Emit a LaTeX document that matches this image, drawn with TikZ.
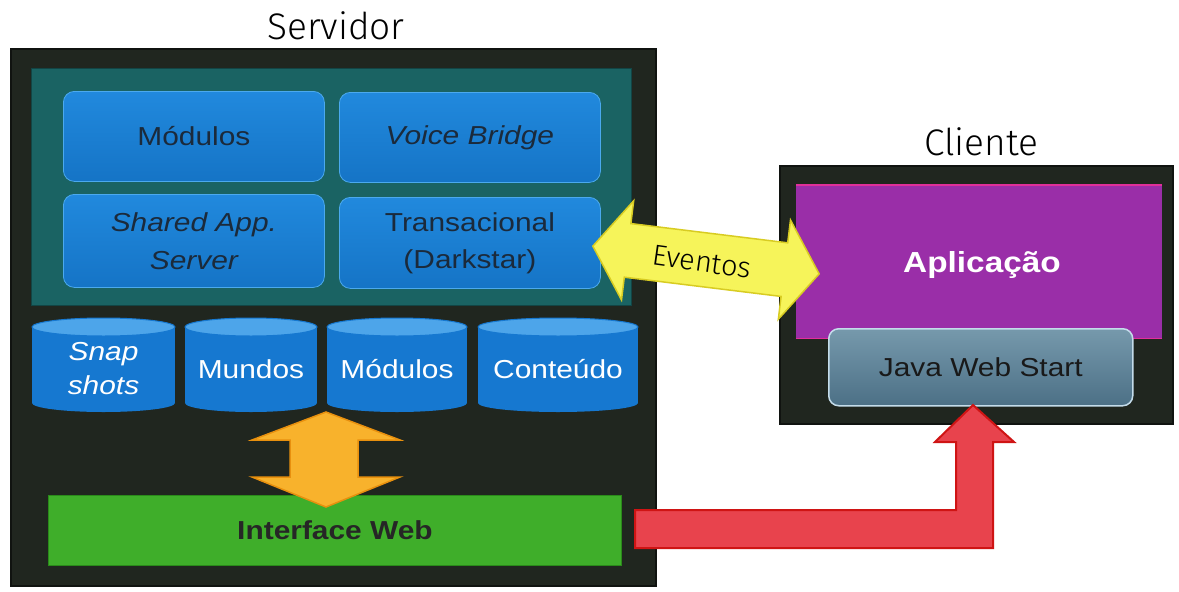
\documentclass[tikz,border=0pt]{standalone}
\usepackage{fontspec}
\setmainfont[FakeStretch=1.15]{Liberation Sans}
\newfontfamily\handfont{Fira Sans Light}
\usetikzlibrary{calc}

\definecolor{panel}{HTML}{20261F}
\definecolor{panelrim}{HTML}{101310}
\definecolor{teal}{HTML}{1A6363}
\definecolor{boxblue}{HTML}{2189DD}
\definecolor{boxblueD}{HTML}{1574C6}
\definecolor{boxrim}{HTML}{4BA9EE}
\definecolor{boxtext}{HTML}{1B2A3B}
\definecolor{cylblue}{HTML}{1678D0}
\definecolor{cyltop}{HTML}{4DA5EA}
\definecolor{webgreen}{HTML}{3FAE2A}
\definecolor{webgreenD}{HTML}{2A8A1A}
\definecolor{orangeA}{HTML}{F8B22C}
\definecolor{orangeB}{HTML}{E8900E}
\definecolor{yellowA}{HTML}{F6F45A}
\definecolor{yellowB}{HTML}{D8CC22}
\definecolor{appviolet}{HTML}{9A2EA8}
\definecolor{appmag}{HTML}{E0309A}
\definecolor{jwsA}{HTML}{7699AC}
\definecolor{jwsB}{HTML}{4C7086}
\definecolor{jwsrim}{HTML}{C4DCEA}
\definecolor{redfill}{HTML}{E8434D}
\definecolor{redrim}{HTML}{CF1414}

\tikzset{
  darkpanel/.style={rectangle, fill=panel, draw=panelrim, line width=1.5pt, anchor=north west, inner sep=0pt},
  bluebox/.style={rectangle, rounded corners=11pt, top color=boxblue, bottom color=boxblueD,
      draw=boxrim, line width=0.8pt, anchor=north west, inner sep=0pt, text=boxtext,
      font=\fontsize{26}{29}\selectfont, align=center},
  cyllabel/.style={rectangle, inner sep=0pt, text=white, font=\fontsize{26}{30}\selectfont, align=center},
  title/.style={font=\handfont\fontsize{37}{40}\selectfont, text=black},
}

\newcommand\dbcyl[4]{%
  \fill[cylblue] (#2,327) rectangle (#3,403);
  \fill[cylblue] ({(#2+#3)/2},403) ellipse [x radius={(#3-#2)/2}, y radius=9];
  \fill[cyltop, draw=cylblue, line width=1pt] ({(#2+#3)/2},327) ellipse [x radius={(#3-#2)/2}, y radius=9];
  \node[cyllabel] (#1) at ({(#2+#3)/2},369) {#4};
}

\begin{document}
\begin{tikzpicture}[x=1pt,y=-1pt]
\useasboundingbox (0,0) rectangle (1179,592);
\fill[white] (0,0) rectangle (1179,592);

% ---------- server ----------
\node[title] (servtitle) at (336,26) {Servidor};
\node[darkpanel, minimum width=645, minimum height=537] (server) at (10,48) {};
\node[rectangle, fill=teal, draw=teal!70!black, line width=1pt, anchor=north west,
      minimum width=600, minimum height=237, inner sep=0pt] (core) at (31,68) {};

\node[bluebox, minimum width=261, minimum height=90] (mods) at (63,91) {Módulos};
\node[bluebox, minimum width=261, minimum height=90] (voice) at (339,92) {\itshape Voice Bridge};
\node[bluebox, minimum width=261, minimum height=93] (shared) at (63,194) {\itshape Shared App.\\[9pt]\itshape Server};
\node[bluebox, minimum width=261, minimum height=91] (trans) at (339,197) {Transacional\\[8pt](Darkstar)};

% storage
\dbcyl{snap}{32}{175}{\itshape Snap\\[4pt]\itshape shots}
\dbcyl{worlds}{185}{317}{Mundos}
\dbcyl{modstore}{327}{467}{Módulos}
\dbcyl{content}{478}{638}{Conteúdo}

% web interface
\node[rectangle, fill=webgreen, draw=webgreenD, line width=1.2pt, anchor=north west,
      minimum width=573, minimum height=70, inner sep=0pt] (iface) at (48,495) {};
\node[font=\bfseries\fontsize{26}{29}\selectfont, text=black!85] (ifacelabel) at (335,530) {Interface Web};

% storage <-> web interface
\filldraw[fill=orangeA, draw=orangeB, line width=1.5pt, line join=miter]
  (326,412) -- (400,440) -- (358,440) -- (358,477) -- (400,477) -- (326,507)
  -- (252,477) -- (290,477) -- (290,440) -- (252,440) -- cycle;

% ---------- client ----------
\node[title] (clititle) at (981,142) {Cliente};
\node[darkpanel, minimum width=393, minimum height=258] (client) at (779,165) {};
\node[rectangle, fill=appviolet, anchor=north west, minimum width=366, minimum height=153,
      inner sep=0pt] (app) at (796,185) {};
\draw[appmag, line width=1.6pt] (app.north west) -- (app.north east);
\draw[appmag, line width=1.6pt] (app.south west) -- (app.south east);
\node[font=\bfseries\fontsize{29}{33}\selectfont, text=white] (applabel) at (982,265) {Aplicação};
\node[rectangle, rounded corners=10pt, top color=jwsA, bottom color=jwsB, draw=jwsrim,
      line width=1.5pt, anchor=north west, minimum width=304, minimum height=77, inner sep=0pt,
      font=\fontsize{26}{30}\selectfont, text=black!90] (jws) at (828,328) {Java Web Start};

% events between server core and application
\begin{scope}[shift={(706,260)}, rotate=-7]
  \filldraw[fill=yellowA, draw=yellowB, line width=1.5pt, line join=miter]
    (-114,0) -- (-79,-50) -- (-79,-27) -- (79,-27) -- (79,-50) -- (114,0)
    -- (79,50) -- (79,27) -- (-79,27) -- (-79,50) -- cycle;
\end{scope}
\node[font=\handfont\fontsize{29}{32}\selectfont, rotate=-8, text=black] (events) at (702,262) {Eventos};

% delivery from the web interface to Java Web Start
\filldraw[fill=redfill, draw=redrim, line width=2pt, line join=miter]
  (635,510) -- (956,510) -- (956,442) -- (935,442) -- (973,405) -- (1014,442)
  -- (993,442) -- (993,548) -- (635,548) -- cycle;

\end{tikzpicture}
\end{document}
